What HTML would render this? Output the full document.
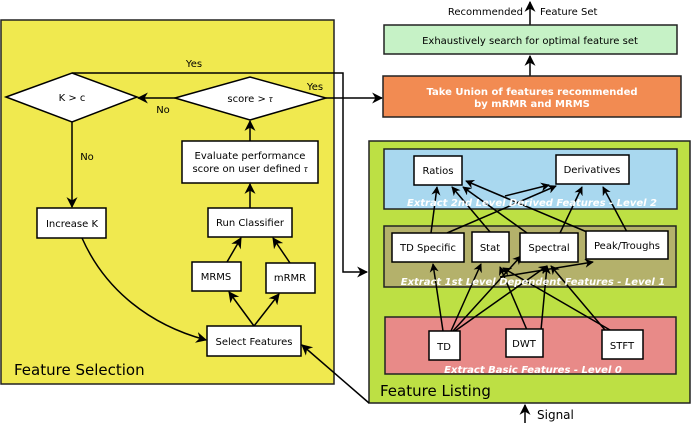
<!DOCTYPE html>
<html><head><meta charset="utf-8"><style>
html,body{margin:0;padding:0;background:#fff;}
svg{display:block;font-family:"DejaVu Sans","Liberation Sans",sans-serif;}
</style></head><body>
<svg width="692" height="424" viewBox="0 0 692 424" xmlns="http://www.w3.org/2000/svg">
<defs>
<marker id="a" viewBox="0 0 10 10" refX="9" refY="5" markerWidth="9" markerHeight="9" orient="auto-start-reverse" markerUnits="userSpaceOnUse">
<path d="M0,0 L10,5 L0,10 L3,5 z" fill="#000"/></marker>
<marker id="b" viewBox="0 0 10 10" refX="9" refY="5" markerWidth="11" markerHeight="11" orient="auto" markerUnits="userSpaceOnUse">
<path d="M0,0 L10,5 L0,10 L3,5 z" fill="#000"/></marker>
</defs>
<rect x="1" y="20" width="333" height="364" fill="#f0e94f" stroke="#222" stroke-width="1.5"/>
<rect x="369" y="141" width="321" height="262" fill="#bde044" stroke="#222" stroke-width="1.5"/>
<rect x="384" y="149" width="293" height="60" fill="#a9d8ef" stroke="#222" stroke-width="1.5"/>
<rect x="384" y="226" width="292" height="61" fill="#b4b16b" stroke="#222" stroke-width="1.5"/>
<rect x="385" y="317" width="291" height="57" fill="#e88a88" stroke="#222" stroke-width="1.5"/>

<g stroke="#000" stroke-width="1.5" fill="none">
<polyline points="72,73 343,73 343,272 367,272" marker-end="url(#b)"/>
<line x1="326" y1="98" x2="382" y2="98" marker-end="url(#b)"/>
<line x1="175" y1="98" x2="138" y2="98" marker-end="url(#b)"/>
<line x1="72" y1="122" x2="72" y2="207" marker-end="url(#b)"/>
<line x1="250" y1="141" x2="250" y2="121" marker-end="url(#b)"/>
<line x1="250" y1="208" x2="250" y2="184" marker-end="url(#b)"/>
<line x1="227" y1="262" x2="241" y2="238" marker-end="url(#b)"/>
<line x1="290" y1="263" x2="273" y2="238" marker-end="url(#b)"/>
<line x1="254" y1="326" x2="229" y2="292" marker-end="url(#b)"/>
<line x1="254" y1="326" x2="279" y2="294" marker-end="url(#b)"/>
<path d="M82,238 C105,290 150,325 206,340" marker-end="url(#b)"/>
<line x1="369" y1="403" x2="302" y2="345" marker-end="url(#b)"/>
<line x1="530" y1="76" x2="530" y2="56" marker-end="url(#b)"/>
<line x1="530" y1="25" x2="530" y2="2" marker-end="url(#b)"/>
<line x1="525" y1="423" x2="525" y2="405" marker-end="url(#b)"/>
<line x1="443" y1="331" x2="433" y2="264" marker-end="url(#a)"/>
<line x1="451" y1="331" x2="481" y2="264" marker-end="url(#a)"/>
<line x1="453" y1="331" x2="521" y2="256" marker-end="url(#a)"/>
<line x1="455" y1="331" x2="547" y2="266" marker-end="url(#a)"/>
<line x1="527" y1="330" x2="500" y2="267" marker-end="url(#a)"/>
<line x1="541" y1="330" x2="547" y2="266" marker-end="url(#a)"/>
<line x1="610" y1="330" x2="503" y2="268" marker-end="url(#a)"/>
<line x1="605" y1="330" x2="551" y2="266" marker-end="url(#a)"/>
<line x1="500" y1="277" x2="593" y2="262" marker-end="url(#a)"/>
<line x1="431" y1="233" x2="437" y2="187" marker-end="url(#a)"/>
<line x1="447" y1="233" x2="556" y2="186" marker-end="url(#a)"/>
<line x1="490" y1="232" x2="452" y2="187" marker-end="url(#a)"/>
<line x1="527" y1="233" x2="463" y2="187" marker-end="url(#a)"/>
<line x1="560" y1="233" x2="582" y2="187" marker-end="url(#a)"/>
<line x1="627" y1="232" x2="603" y2="187" marker-end="url(#a)"/>
<line x1="587" y1="232" x2="466" y2="181" marker-end="url(#a)"/>
<line x1="505" y1="196" x2="549" y2="185" marker-end="url(#a)"/>
</g>

<polygon points="6,97 72,73 137,97 72,122" fill="#fff" stroke="#000" stroke-width="1.5"/>
<polygon points="175,98 250,77 326,98 250,120" fill="#fff" stroke="#000" stroke-width="1.5"/>
<g fill="#fff" stroke="#000" stroke-width="1.5">
<rect x="182" y="141" width="136" height="42"/>
<rect x="208" y="208" width="84" height="29"/>
<rect x="192" y="262" width="49" height="29"/>
<rect x="266" y="263" width="49" height="30"/>
<rect x="207" y="326" width="94" height="30"/>
<rect x="37" y="208" width="69" height="30"/>
<rect x="414" y="156" width="48" height="29"/>
<rect x="556" y="155" width="73" height="29"/>
<rect x="392" y="233" width="72" height="29"/>
<rect x="472" y="232" width="37" height="30"/>
<rect x="520" y="233" width="58" height="29"/>
<rect x="586" y="231" width="82" height="28"/>
<rect x="429" y="331" width="31" height="29"/>
<rect x="506" y="329" width="37" height="28"/>
<rect x="602" y="330" width="41" height="29"/>
</g>
<rect x="384" y="25" width="293" height="29" fill="#c6f2c6" stroke="#222" stroke-width="1.5"/>
<rect x="383" y="76" width="298" height="41" fill="#f28b52" stroke="#222" stroke-width="1.5"/>

<g font-size="10" fill="#000" text-anchor="middle">
<text x="72" y="101">K &gt; c</text>
<text x="250" y="102">score &gt; <tspan font-family="Liberation Serif" font-style="italic">τ</tspan></text>
<text x="250" y="159">Evaluate performance</text>
<text x="250" y="172">score on user defined <tspan font-family="Liberation Serif" font-style="italic">τ</tspan></text>
<text x="250" y="226">Run Classifier</text>
<text x="216" y="280">MRMS</text>
<text x="290" y="281">mRMR</text>
<text x="254" y="345">Select Features</text>
<text x="72" y="227">Increase K</text>
<text x="194" y="67">Yes</text>
<text x="315" y="90">Yes</text>
<text x="163" y="113">No</text>
<text x="87" y="160">No</text>
<text x="438" y="174">Ratios</text>
<text x="592" y="173">Derivatives</text>
<text x="428" y="251">TD Specific</text>
<text x="490" y="251">Stat</text>
<text x="549" y="251">Spectral</text>
<text x="627" y="249">Peak/Troughs</text>
<text x="444" y="350">TD</text>
<text x="524" y="347">DWT</text>
<text x="622" y="349">STFT</text>
<text x="530" y="44">Exhaustively search for optimal feature set</text>
<text x="523" y="15" text-anchor="end">Recommended</text>
<text x="540" y="15" text-anchor="start">Feature Set</text>
</g>
<g font-size="10" font-weight="bold" fill="#fff" text-anchor="middle">
<text x="532" y="95">Take Union of features recommended</text>
<text x="532" y="107">by mRMR and MRMS</text>
</g>
<g font-size="10" font-weight="bold" font-style="italic" fill="#fff" text-anchor="middle">
<text x="532" y="206">Extract 2nd Level Derived Features - Level 2</text>
<text x="533" y="285">Extract 1st Level Dependent Features - Level 1</text>
<text x="533" y="373">Extract Basic Features - Level 0</text>
</g>
<text x="14" y="375" font-size="15">Feature Selection</text>
<text x="380" y="396" font-size="15">Feature Listing</text>
<text x="537" y="419" font-size="12">Signal</text>
</svg>
</body></html>
